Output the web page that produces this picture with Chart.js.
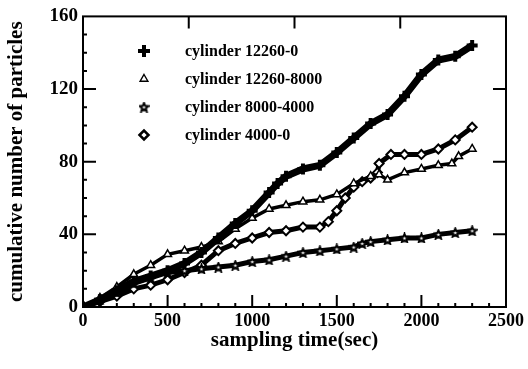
<!DOCTYPE html>
<html>
<head>
<meta charset="utf-8">
<script src="https://cdn.jsdelivr.net/npm/chart.js@4.4.1/dist/chart.umd.min.js"></script>
<style>
  body { margin: 0; background: #fff; }
  canvas { display: block; }
</style>
</head>
<body>
<canvas id="particleChart" width="528" height="369"></canvas>
<script>
// values
const seriesNames = ['cylinder 12260-0', 'cylinder 12260-8000', 'cylinder 8000-4000', 'cylinder 4000-0'];

const crossTime = [0, 100, 200, 300, 400, 500, 600, 700, 800, 900, 1000, 1100, 1150, 1200, 1300, 1400, 1500, 1600, 1700, 1800, 1900, 2000, 2100, 2200, 2300];
const crossCount = [0, 4, 9, 14, 17, 20, 24, 30, 38, 46, 53, 63, 68, 72, 76, 78, 85, 93, 101, 106, 116, 128, 136, 138, 144];

const triTime = [0, 100, 200, 300, 400, 500, 600, 700, 800, 900, 1000, 1100, 1200, 1300, 1400, 1500, 1600, 1700, 1750, 1800, 1900, 2000, 2100, 2180, 2220, 2300];
const triCount = [0, 5, 11, 18, 23, 29, 31, 33, 36, 43, 49, 54, 56, 58, 59, 62, 68, 72, 73, 70, 74, 76, 78, 79, 83, 87];

const starTime = [0, 100, 200, 300, 400, 500, 600, 700, 800, 900, 1000, 1100, 1200, 1300, 1400, 1500, 1600, 1650, 1700, 1800, 1900, 2000, 2100, 2200, 2300];
const starCount = [0, 4, 8, 13, 16, 19, 20, 21, 22, 23, 25, 26, 28, 30, 31, 32, 33, 35, 36, 37, 38, 38, 40, 41, 42];

const diaTime = [0, 100, 200, 300, 400, 500, 600, 700, 800, 900, 1000, 1100, 1200, 1300, 1400, 1450, 1500, 1550, 1600, 1650, 1700, 1740, 1750, 1820, 1900, 2000, 2100, 2200, 2300];
const diaCount = [0, 3, 6, 10, 12, 15, 19, 23, 31, 35, 38, 41, 42, 44, 44, 47, 53, 60, 66, 69, 71, 74, 79, 84, 84, 84, 87, 92, 99];

const xTicks = [0, 500, 1000, 1500, 2000, 2500];
const yTicks = [0, 40, 80, 120, 160];
const topTicks = [625, 1250, 1875];
const rightTicks = [40, 80, 120];

function toPoints(xs, ys) {
  return xs.map((x, i) => ({ x: x, y: ys[i] }));
}

// open five-pointed star marker
function makeStar(size) {
  const c = document.createElement('canvas');
  c.width = size; c.height = size;
  const g = c.getContext('2d');
  const r = size / 2 - 1, r2 = r * 0.45, cx = size / 2, cy = size / 2 + 0.5;
  g.beginPath();
  for (let i = 0; i < 10; i++) {
    const rr = i % 2 === 0 ? r : r2;
    const a = -Math.PI / 2 + i * Math.PI / 5;
    g.lineTo(cx + rr * Math.cos(a), cy + rr * Math.sin(a));
  }
  g.closePath();
  g.fillStyle = '#fff';
  g.fill();
  g.lineWidth = 2;
  g.strokeStyle = '#000';
  g.stroke();
  return c;
}
const starImg = makeStar(11);

const serif = '"Liberation Serif", "DejaVu Serif", serif';

const framePlugin = {
  id: 'frame',
  afterDatasetsDraw(chart) {
    const { ctx, chartArea: a, scales } = chart;
    ctx.save();
    ctx.strokeStyle = '#000';
    ctx.lineWidth = 2;
    ctx.strokeRect(a.left, a.top, a.right - a.left, a.bottom - a.top);
    ctx.beginPath();
    for (let v = 100; v < 2500; v += 100) {
      const px = scales.x.getPixelForValue(v);
      const len = v % 500 === 0 ? 12 : 4;
      ctx.moveTo(px, a.bottom); ctx.lineTo(px, a.bottom - len);
    }
    for (let v = 10; v < 160; v += 10) {
      const py = scales.y.getPixelForValue(v);
      const len = v % 40 === 0 ? 13 : 4;
      ctx.moveTo(a.left, py); ctx.lineTo(a.left + len, py);
    }
    topTicks.forEach(v => {
      const px = scales.x.getPixelForValue(v);
      ctx.moveTo(px, a.top); ctx.lineTo(px, a.top + 12);
    });
    rightTicks.forEach(v => {
      const py = scales.y.getPixelForValue(v);
      ctx.moveTo(a.right, py); ctx.lineTo(a.right - 13, py);
    });
    ctx.stroke();

    // legend inside the plot
    chart.data.datasets.forEach((d, i) => {
      const y = 51 + i * 28;
      ctx.strokeStyle = '#000';
      ctx.fillStyle = d.pointBackgroundColor;
      ctx.lineWidth = d.legendLineWidth;
      Chart.helpers.drawPoint(ctx, {
        pointStyle: d.pointStyle,
        radius: d.legendRadius,
        borderWidth: d.legendLineWidth,
        rotation: 0
      }, 144, y);
      ctx.font = 'bold 16px ' + serif;
      ctx.fillStyle = '#000';
      ctx.textBaseline = 'middle';
      ctx.fillText(seriesNames[i], 185, y + 1);
    });
    ctx.restore();
  }
};

function markerStyle(ds) {
  ds.borderColor = '#000';
  ds.pointBorderColor = '#000';
  ds.showLine = true;
  ds.tension = 0;
  return ds;
}

const ctx = document.getElementById('particleChart').getContext('2d');
new Chart(ctx, {
  type: 'scatter',
  data: {
    datasets: [
      markerStyle({
        label: seriesNames[0],
        data: toPoints(crossTime, crossCount),
        borderWidth: 7,
        pointStyle: 'cross',
        pointRadius: 5.5,
        pointBorderWidth: 4,
        pointBackgroundColor: '#000',
        legendRadius: 6,
        legendLineWidth: 4
      }),
      markerStyle({
        label: seriesNames[1],
        data: toPoints(triTime, triCount),
        borderWidth: 3.5,
        pointStyle: 'triangle',
        pointRadius: 4.5,
        pointBorderWidth: 1.5,
        pointBackgroundColor: '#fff',
        legendRadius: 4.5,
        legendLineWidth: 1.4
      }),
      markerStyle({
        label: seriesNames[2],
        data: toPoints(starTime, starCount),
        borderWidth: 5,
        pointStyle: starImg,
        pointRadius: 5,
        pointBorderWidth: 1.5,
        pointBackgroundColor: '#fff',
        legendRadius: 5,
        legendLineWidth: 1.5
      }),
      markerStyle({
        label: seriesNames[3],
        data: toPoints(diaTime, diaCount),
        borderWidth: 5,
        pointStyle: 'rectRot',
        pointRadius: 4.5,
        pointBorderWidth: 2,
        pointBackgroundColor: '#fff',
        legendRadius: 4.5,
        legendLineWidth: 2.5
      })
    ]
  },
  options: {
    responsive: false,
    animation: false,
    layout: { padding: { top: 13, right: 19, left: 0, bottom: 0 } },
    plugins: {
      legend: { display: false },
      tooltip: { enabled: false }
    },
    scales: {
      x: {
        type: 'linear',
        min: 0,
        max: 2500,
        afterBuildTicks: s => { s.ticks = xTicks.map(v => ({ value: v })); },
        afterFit: s => { s.height = 62; },
        ticks: {
          color: '#000',
          font: { family: serif, size: 18, weight: 'bold' },
          padding: 4,
          maxRotation: 0,
          callback: v => String(v)
        },
        grid: { display: false, drawTicks: false },
        border: { display: false },
        title: {
          display: true,
          text: 'sampling time(sec)',
          color: '#000',
          font: { family: serif, size: 21, weight: 'bold' },
          padding: { top: 0, bottom: 16 }
        }
      },
      y: {
        min: 0,
        max: 160,
        afterBuildTicks: s => { s.ticks = yTicks.map(v => ({ value: v })); },
        afterFit: s => { s.width = 83; },
        ticks: { color: '#000', font: { family: serif, size: 19, weight: 'bold' }, padding: 5 },
        grid: { display: false, drawTicks: false },
        border: { display: false },
        title: {
          display: true,
          text: 'cumulative number of particles',
          color: '#000',
          font: { family: serif, size: 21, weight: 'bold' },
          padding: { top: 4, bottom: 0 }
        }
      }
    }
  },
  plugins: [framePlugin]
});
</script>
</body>
</html>
